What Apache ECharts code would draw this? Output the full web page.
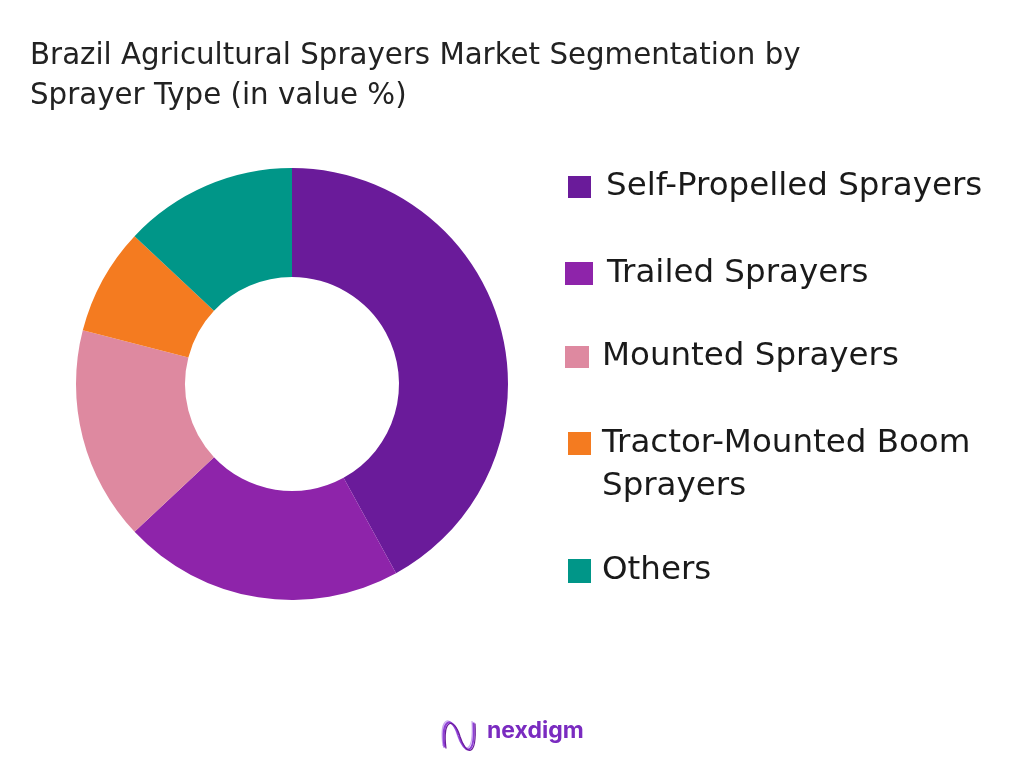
<!DOCTYPE html>
<html><head><meta charset="utf-8">
<script src="https://cdn.jsdelivr.net/npm/echarts@6/dist/echarts.min.js"></script>
<style>html,body{margin:0;padding:0;background:#fff}#c{width:1024px;height:768px}</style>
</head><body><div id="c"></div>
<script>
const categories = ["Self-Propelled Sprayers","Trailed Sprayers","Mounted Sprayers","Tractor-Mounted Boom Sprayers","Others"];
const values = [42, 21, 16, 8, 13];
const colors = ["#6a1b9a","#8e24aa","#de89a0","#f47b20","#009688"];
const legendLabels = ["Self-Propelled Sprayers","Trailed Sprayers","Mounted Sprayers","\nTractor-Mounted Boom\nSprayers","Others"];

const chart = echarts.init(document.getElementById('c'));
const font = 'DejaVu Sans';
const legendPos = [
  {left:568, top:165.5, w:23, h:22, gap:15},
  {left:565, top:252, w:28, h:23, gap:14},
  {left:565, top:335.5, w:24, h:22, gap:13},
  {left:568, top:379, w:23, h:23, gap:11},
  {left:568, top:549.5, w:23, h:24, gap:11}
];
const legends = categories.map((c,i)=>({
  data:[c], left:legendPos[i].left, top:legendPos[i].top, padding:0,
  itemWidth:legendPos[i].w, itemHeight:legendPos[i].h, icon:'rect', selectedMode:false,
  itemGap:0,
  formatter:()=>legendLabels[i],
  textStyle:{fontFamily:font, fontSize:32.5, color:'#1a1a1a', lineHeight:43,
    padding:[0,0,0,legendPos[i].gap-5]}
}));
function wave(dx, dy, color, w){
  return [
    {type:'bezierCurve', shape:{x1:443+dx,y1:746+dy,cpx1:439+dx,cpy1:716+dy,cpx2:451+dx,cpy2:714+dy,x2:457+dx,y2:734+dy}, style:{stroke:color, lineWidth:w, fill:null}},
    {type:'bezierCurve', shape:{x1:457+dx,y1:734+dy,cpx1:463+dx,cpy1:753+dy,cpx2:474+dx,cpy2:756+dy,x2:472+dx,y2:721+dy}, style:{stroke:color, lineWidth:w, fill:null}}
  ];
}
chart.setOption({
  backgroundColor:'#fff',
  animation:false,
  title:{text:'Brazil Agricultural Sprayers Market Segmentation by\nSprayer Type (in value %)',
    left:30, top:36, padding:0,
    textStyle:{fontFamily:font, fontSize:29.3, fontWeight:'normal', color:'#222', lineHeight:40}},
  legend:legends,
  graphic:[].concat(
    wave(0,0,'#c9a6ee',1.2),
    wave(1.5,1.5,'#8e3fd6',2),
    wave(3,2.5,'#6a1b9a',1.2),
    [{type:'text', left:487, top:720, style:{text:'nexdigm', fontFamily:'Inter', fontSize:23, fontWeight:'bold', fill:'#7a2bc0'}}]
  ),
  series:[{
    type:'pie', center:[292,384], radius:[107,216], startAngle:90, clockwise:true,
    label:{show:false}, labelLine:{show:false}, emphasis:{disabled:true},
    data:categories.map((c,i)=>({name:c, value:values[i], itemStyle:{color:colors[i]}}))
  }]
});
</script></body></html>
